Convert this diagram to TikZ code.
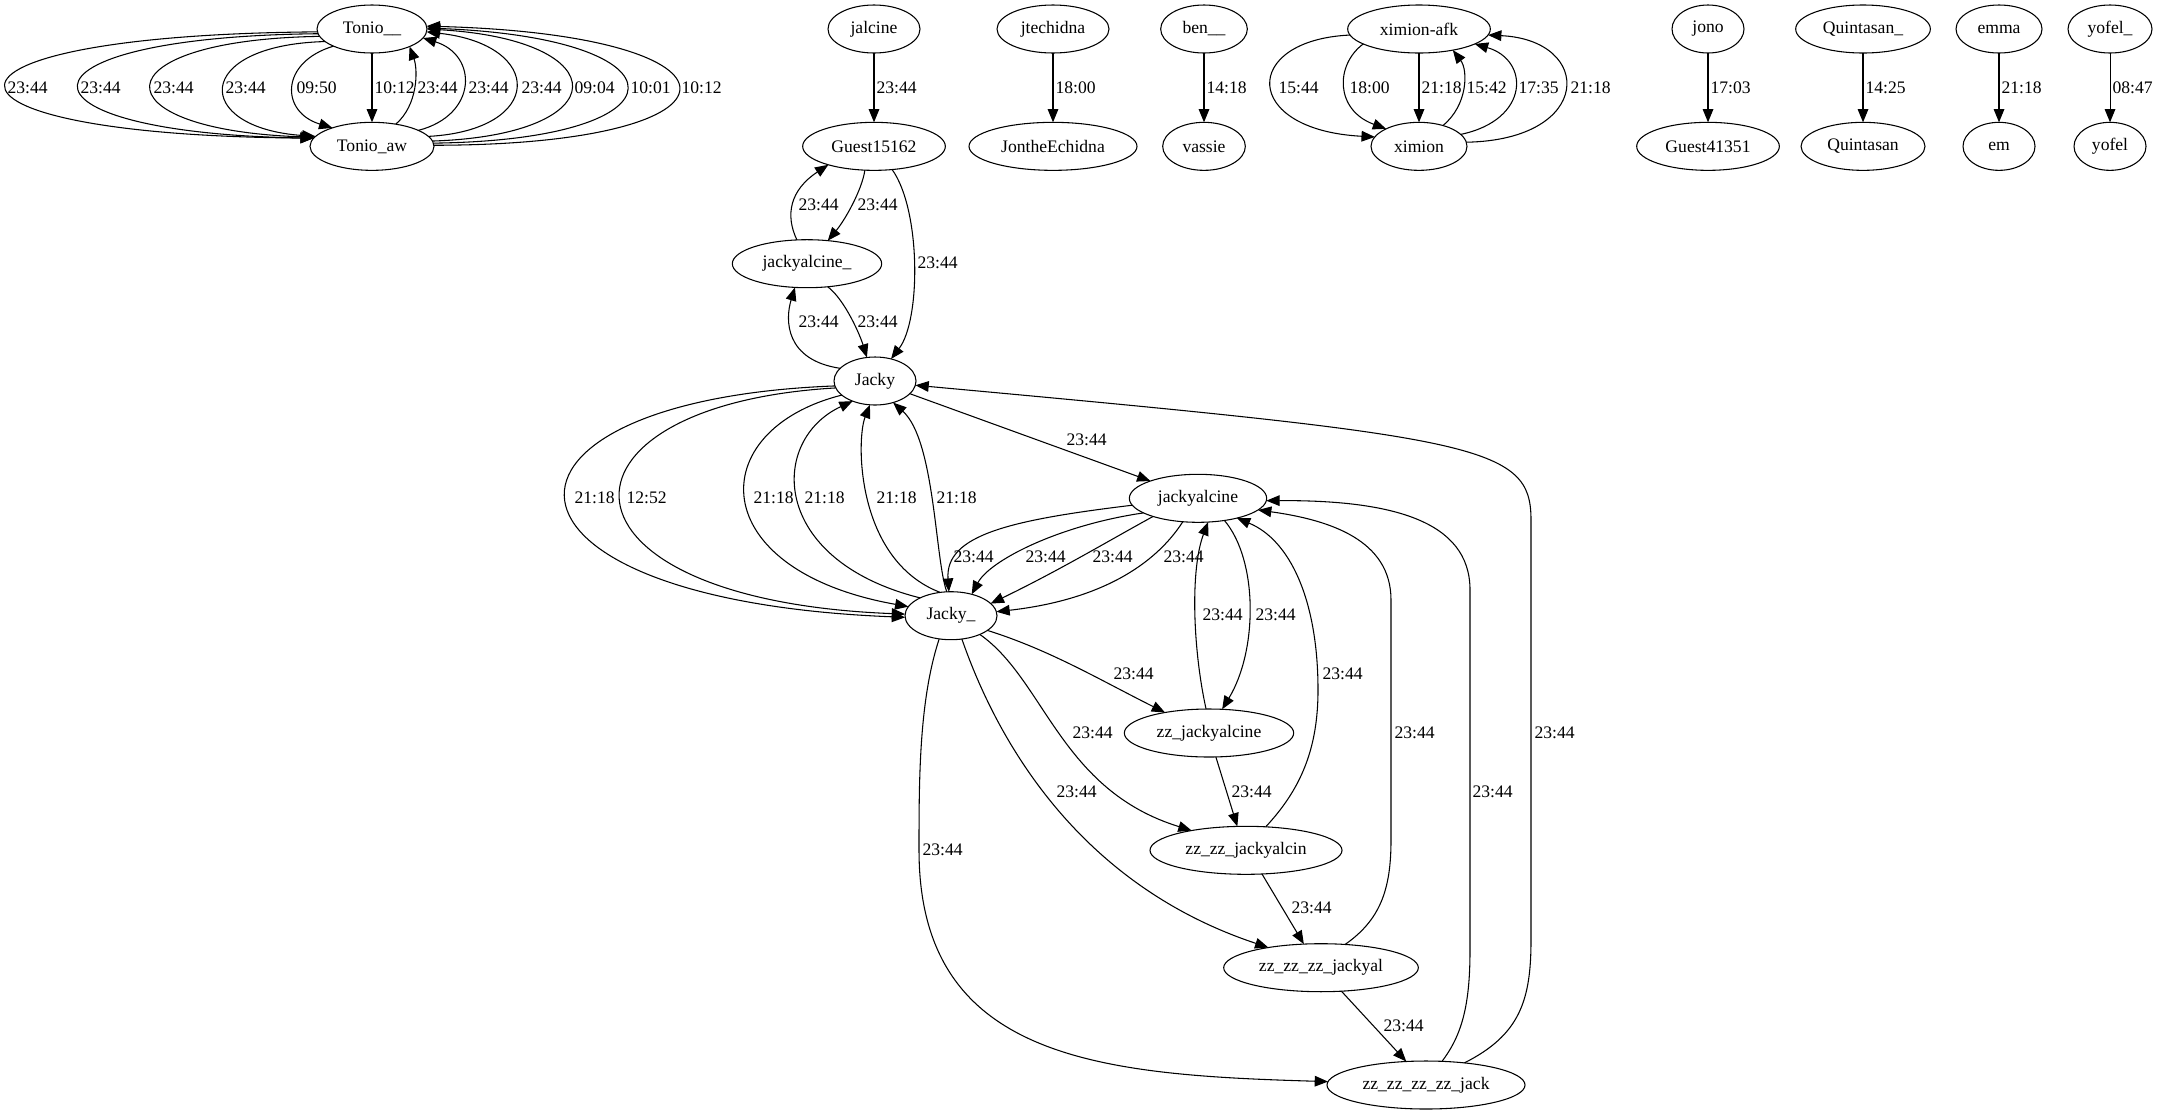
\documentclass[tikz,border=0pt]{standalone}
\usepackage{fontspec}
\setmainfont{Liberation Serif}
\usetikzlibrary{arrows.meta,positioning,shapes.geometric}
\newcommand\gvfont{\fontsize{13.2}{16}\selectfont}
\tikzset{
  >={Triangle[length=10pt,width=8pt]},
  nd/.style={draw,ellipse,line width=0.8pt,inner sep=0pt,outer sep=0pt,minimum height=36pt,minimum width=54pt,font=\gvfont},
  lab/.style={inner sep=0pt,anchor=west,font=\gvfont},
  arr/.style={->,line width=0.8pt},
}

\begin{document}
\begin{tikzpicture}[x=0.75pt,y=-0.75pt,node distance=52pt]
\useasboundingbox[fill=white] (0,0) rectangle (2161,1115);
% top row and their pairs
\node[nd,minimum width=82.5pt] (tonio) at (372,29) {Tonio\_\_};
\node[nd,minimum width=93pt,below=of tonio] (tonioaw) {Tonio\_aw};
\node[nd,minimum width=69pt] (jalcine) at (874,29) {jalcine};
\node[nd,minimum width=107pt,below=of jalcine] (guestA) {Guest15162};
\node[nd,minimum width=84pt] (jtechidna) at (1053,29) {jtechidna};
\node[nd,minimum width=126pt,below=of jtechidna] (jonthe) {JontheEchidna};
\node[nd,minimum width=65pt] (ben) at (1204,29) {ben\_\_};
\node[nd,minimum width=62pt,below=of ben] (vassie) {vassie};
\node[nd,minimum width=107pt] (ximafk) at (1419,29) {ximion-afk};
\node[nd,minimum width=72pt,below=of ximafk] (ximion) {ximion};
\node[nd] (jono) at (1708,29) {jono};
\node[nd,minimum width=107pt,below=of jono] (guestB) {Guest41351};
\node[nd,minimum width=101pt] (quintu) at (1863,29) {Quintasan\_};
\node[nd,minimum width=93pt,below=of quintu] (quint) {Quintasan};
\node[nd,minimum width=64.5pt] (emma) at (1999,29) {emma};
\node[nd,below=of emma] (emb) {em};
\node[nd,minimum width=63pt] (yofelu) at (2110,29) {yofel\_};
\node[nd,below=of yofelu] (yofel) {yofel};
% jacky cluster
\node[nd,minimum width=112pt] (jaly) at (807,263.7) {jackyalcine\_};
\node[nd,minimum width=61.5pt] (jacky) at (875,381) {Jacky};
\node[nd,minimum width=103pt] (jackyal) at (1198,498.3) {jackyalcine};
\node[nd,minimum width=69pt] (jackyu) at (951,615.7) {Jacky\_};
\node[nd,minimum width=127pt] (zzA) at (1209,733) {zz\_jackyalcine};
\node[nd,minimum width=144pt] (zzB) at (1246,850.3) {zz\_zz\_jackyalcin};
\node[nd,minimum width=146pt] (zzC) at (1321,967.7) {zz\_zz\_zz\_jackyal};
\node[nd,minimum width=148.5pt] (zzD) at (1426,1085) {zz\_zz\_zz\_zz\_jack};

% Tonio__ <-> Tonio_aw
\draw[arr] (tonio.183) .. controls (-97,35) and (-97,135) .. (tonioaw.172) node[lab] at (7,88) {23:44};
\draw[arr] (tonio.185) .. controls (0,37) and (0,133) .. (tonioaw.172) node[lab] at (80,88) {23:44};
\draw[arr] (tonio.188) .. controls (96,40) and (96,130) .. (tonioaw.171) node[lab] at (153,88) {23:44};
\draw[arr] (tonio.195) .. controls (192,45) and (192,128) .. (tonioaw.170) node[lab] at (225,88) {23:44};
\draw[arr] (tonio.204) .. controls (280,62) and (280,112) .. (tonioaw.155) node[lab] at (296,88) {09:50};
\draw[arr] (tonio) -- (tonioaw) node[lab] at (374,88) {10:12};
\draw[arr] (tonioaw.43) .. controls (418,105) and (418,70) .. (tonio.335) node[lab] at (417,88) {23:44};
\draw[arr] (tonioaw.19) .. controls (478,115) and (478,55) .. (tonio.350) node[lab] at (468,88) {23:44};
\draw[arr] (tonioaw.10) .. controls (545,130) and (545,45) .. (tonio.357) node[lab] at (521,88) {23:44};
\draw[arr] (tonioaw.5) .. controls (618,135) and (618,40) .. (tonio.0) node[lab] at (574,88) {09:04};
\draw[arr] (tonioaw.3) .. controls (692,140) and (692,38) .. (tonio.1) node[lab] at (630,88) {10:01};
\draw[arr] (tonioaw.1) .. controls (761,145) and (761,35) .. (tonio.3) node[lab] at (681,88) {10:12};

% single pairs
\draw[arr] (jalcine) -- (guestA) node[lab] at (876,88) {23:44};
\draw[arr] (jtechidna) -- (jonthe) node[lab] at (1055,88) {18:00};
\draw[arr] (ben) -- (vassie) node[lab] at (1206,88) {14:18};
\draw[arr] (jono) -- (guestB) node[lab] at (1710,88) {17:03};
\draw[arr] (quintu) -- (quint) node[lab] at (1865,88) {14:25};
\draw[arr] (emma) -- (emb) node[lab] at (2001,88) {21:18};
\draw[arr] (yofelu) -- (yofel) node[lab] at (2112,88) {08:47};

% ximion
\draw[arr] (ximafk.185) .. controls (1241,40) and (1241,130) .. (ximion.168) node[lab] at (1278,88) {15:44};
\draw[arr] (ximafk.195) .. controls (1335,65) and (1335,110) .. (ximion.152) node[lab] at (1349,88) {18:00};
\draw[arr] (ximafk) -- (ximion) node[lab] at (1421,88) {21:18};
\draw[arr] (ximion.41) .. controls (1468,105) and (1468,70) .. (ximafk.328) node[lab] at (1466,88) {15:42};
\draw[arr] (ximion.16) .. controls (1530,120) and (1530,60) .. (ximafk.345) node[lab] at (1518,88) {17:35};
\draw[arr] (ximion.5) .. controls (1594,140) and (1594,40) .. (ximafk.355) node[lab] at (1570,88) {21:18};

% Guest15162, jackyalcine_, Jacky
\draw[arr] (jaly.113) .. controls (785,215) and (790,190) .. (guestA.202) node[lab] at (798,205) {23:44};
\draw[arr] (guestA.249) .. controls (862,190) and (845,220) .. (jaly.48) node[lab] at (857,205) {23:44};
\draw[arr] (guestA.308) .. controls (921,210) and (921,320) .. (jacky.54) node[lab] at (917,263) {23:44};
\draw[arr] (jacky.160) .. controls (785,360) and (785,320) .. (jaly.243) node[lab] at (798,322) {23:44};
\draw[arr] (jaly.312) .. controls (845,300) and (860,335) .. (jacky.109) node[lab] at (857,322) {23:44};

% Jacky <-> Jacky_
\draw[arr] (jacky.187) .. controls (465,400) and (465,600) .. (jackyu.182) node[lab] at (574,498) {21:18};
\draw[arr] (jacky.190) .. controls (538,405) and (538,600) .. (jackyu.178) node[lab] at (626,498) {12:52};
\draw[arr] (jacky.203) .. controls (703,430) and (703,570) .. (jackyu.168) node[lab] at (753,498) {21:18};
\draw[arr] (jackyu.150) .. controls (769,560) and (769,440) .. (jacky.222) node[lab] at (804,498) {21:18};
\draw[arr] (jackyu.115) .. controls (856,560) and (856,440) .. (jacky.258) node[lab] at (876,498) {21:18};
\draw[arr] (jackyu.100) .. controls (935,560) and (935,440) .. (jacky.310) node[lab] at (936,498) {21:18};

% jackyalcine
\draw[arr] (jacky.340) -- (jackyal.160) node[lab] at (1066,440) {23:44};
\draw[arr] (jackyal.186) .. controls (1010,520) and (945,535) .. (jackyu.95) node[lab] at (953,557) {23:44};
\draw[arr] (jackyal.195) .. controls (1060,525) and (990,560) .. (jackyu.46) node[lab] at (1025,557) {23:44};
\draw[arr] (jackyal.202) .. controls (1110,540) and (1060,570) .. (jackyu.17) node[lab] at (1092,557) {23:44};
\draw[arr] (jackyal.237) .. controls (1155,565) and (1100,600) .. (jackyu.5) node[lab] at (1163,557) {23:44};

% Jacky_ -> zz
\draw[arr] (jackyu.338) .. controls (1050,650) and (1100,680) .. (zzA.155) node[lab] at (1113,674) {23:44};
\draw[arr] (jackyu.327) .. controls (1045,680) and (1060,790) .. (zzB.160) node[lab] at (1072,733) {23:44};
\draw[arr] (jackyu.295) .. controls (990,720) and (1065,880) .. (zzC.159) node[lab] at (1056,792) {23:44};
\draw[arr] (jackyu.243) .. controls (919,700) and (919,780) .. (919,850) .. controls (919,1060) and (1100,1075) .. (zzD.178) node[lab] at (922,850) {23:44};

% zz chain
\draw[arr] (zzA.286) -- (zzB.110) node[lab] at (1231,792) {23:44};
\draw[arr] (zzB.304) -- (zzC.126) node[lab] at (1291,908) {23:44};
\draw[arr] (zzC.311) -- (zzD.130) node[lab] at (1383,1026) {23:44};

% back to jackyalcine and Jacky
\draw[arr] (zzA.97) .. controls (1193,650) and (1190,570) .. (jackyal.293) node[lab] at (1202,615) {23:44};
\draw[arr] (jackyal.320) .. controls (1258,560) and (1258,650) .. (zzA.61) node[lab] at (1255,615) {23:44};
\draw[arr] (zzB.50) .. controls (1300,790) and (1318,750) .. (1318,690) .. controls (1318,600) and (1290,540) .. (jackyal.333) node[lab] at (1322,674) {23:44};
\draw[arr] (zzC.44) .. controls (1380,920) and (1391,890) .. (1391,840) -- (1391,600) .. controls (1391,540) and (1330,520) .. (jackyal.349) node[lab] at (1394,733) {23:44};
\draw[arr] (zzD.56) .. controls (1462,1035) and (1470,1005) .. (1470,950) -- (1470,590) .. controls (1470,520) and (1390,500) .. (jackyal.358) node[lab] at (1472,792) {23:44};
\draw[arr] (zzD.30) .. controls (1520,1035) and (1531,1000) .. (1531,940) -- (1531,520) .. controls (1531,445) and (1480,437) .. (jacky.354) node[lab] at (1534,733) {23:44};
\end{tikzpicture}
\end{document}
